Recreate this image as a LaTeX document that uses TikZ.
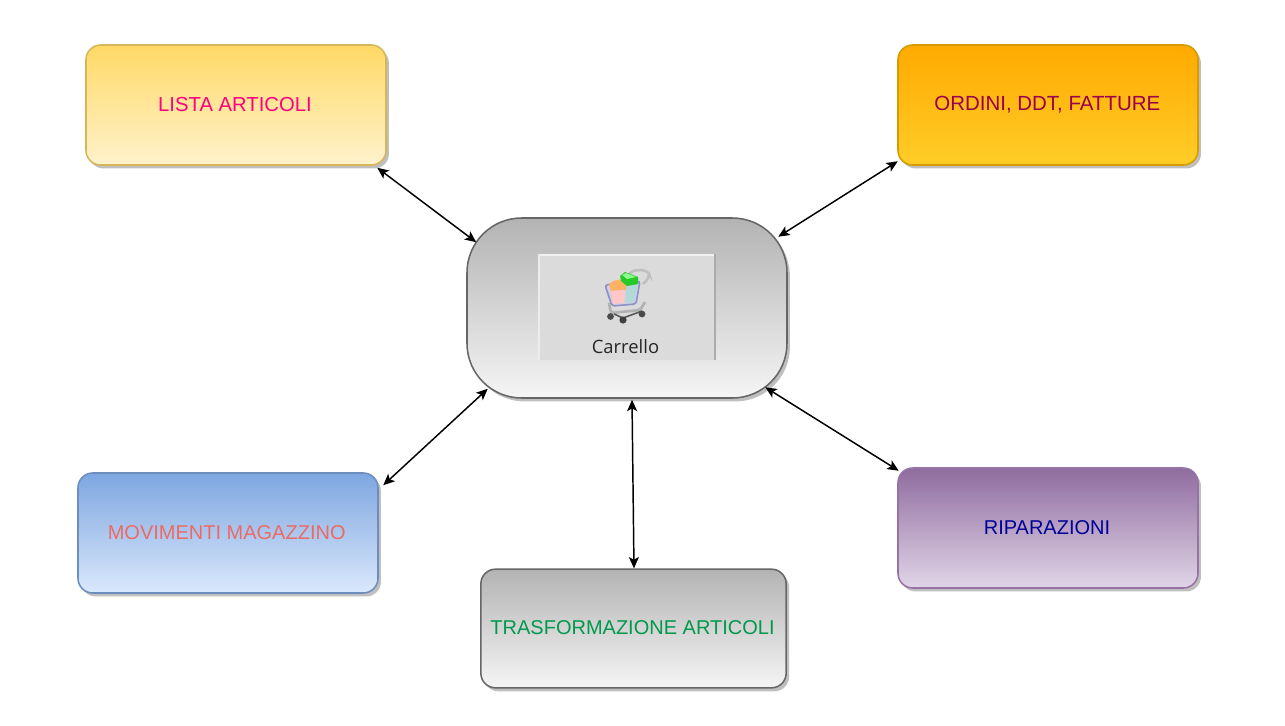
\documentclass[tikz,border=0pt]{standalone}
\usepackage{fontspec}
\setmainfont{Liberation Sans}
\newfontfamily\panelfont{Open Sans}
\usetikzlibrary{shadows, calc, arrows.meta}
\definecolor{listaTop}{HTML}{FFD966}
\definecolor{listaBot}{HTML}{FFF2CC}
\definecolor{listaEdge}{HTML}{D6B656}
\definecolor{ordiniTop}{HTML}{FFAA00}
\definecolor{ordiniBot}{HTML}{FFCD28}
\definecolor{ordiniEdge}{HTML}{D79B00}
\definecolor{movTop}{HTML}{7EA6E0}
\definecolor{movBot}{HTML}{DAE8FC}
\definecolor{movEdge}{HTML}{6C8EBF}
\definecolor{ripTop}{HTML}{8F6C9F}
\definecolor{ripBot}{HTML}{E1D5E7}
\definecolor{ripEdge}{HTML}{9673A6}
\definecolor{grigioTop}{HTML}{B3B3B3}
\definecolor{grigioBot}{HTML}{F5F5F5}
\definecolor{grigioEdge}{HTML}{666666}
\tikzset{
	box/.style={rectangle, draw, line width=1.15pt, rounded corners=11pt, inner sep=0pt,
		minimum width=225pt, minimum height=90pt, font=\fontsize{15}{18}\selectfont,
		drop shadow={shadow xshift=2.2pt, shadow yshift=-2.6pt, fill=black, opacity=0.25}},
	biarrow/.style={{Stealth[length=8.5pt, width=7.5pt, inset=2pt]}-{Stealth[length=8.5pt, width=7.5pt, inset=2pt]}, line width=1.1pt}
}
\begin{document}
\begin{tikzpicture}[x=0.75pt, y=-0.75pt]
			\useasboundingbox (0,0) rectangle (1285,725);

			%% Carrello
			\node[box, minimum width=240pt, minimum height=135pt, rounded corners=41pt,
				draw=grigioEdge, top color=grigioTop, bottom color=grigioBot] (carrello) at (627,308) {};

			%% Riquadri
			\node[box, font=\fontsize{15.2}{18}\selectfont, draw=listaEdge, top color=listaTop, bottom color=listaBot,
				text={rgb,255:red,255;green,0;blue,128}] (lista) at (236,105) {\kern-1.5pt LISTA ARTICOLI};
			\node[box, font=\fontsize{15.35}{18}\selectfont, draw=ordiniEdge, top color=ordiniTop, bottom color=ordiniBot,
				text={rgb,255:red,153;green,0;blue,77}] (ordini) at (1048,105) {\kern-1pt ORDINI, DDT, FATTURE};
			\node[box, draw=movEdge, top color=movTop, bottom color=movBot,
				text={rgb,255:red,234;green,107;blue,102}] (movimenti) at (228,533) {\raisebox{0.7pt}{\kern-2pt MOVIMENTI MAGAZZINO}};
			\node[box, draw=ripEdge, top color=ripTop, bottom color=ripBot,
				text={rgb,255:red,0;green,0;blue,153}] (riparazioni) at (1048,528) {\kern-1.5pt RIPARAZIONI};
			\node[box, minimum width=229pt, minimum height=89pt, draw=grigioEdge, top color=grigioTop,
				bottom color=grigioBot, text={rgb,255:red,0;green,153;blue,77}] (trasformazione) at (633.5,628.5) {\raisebox{1.4pt}{\kern-1.5pt TRASFORMAZIONE ARTICOLI}};

			%% Frecce
			\draw[biarrow] ($(lista.south east)+(-9.5,2)$)--($(carrello.north west)+(10,25)$);
			\draw[biarrow] ($(ordini.south west)+(0.5,-4.5)$)--($(carrello.north east)+(-9.5,19.5)$);
			\draw[biarrow] ($(movimenti.north east)+(4.5,13)$)--($(carrello.south west)+(21.5,-10)$);
			\draw[biarrow] ($(riparazioni.north west)+(1.5,3.5)$)--($(carrello.south east)+(-22.5,-11.5)$);
			\draw[biarrow] ($(carrello.south)+(5,1)$)--($(trasformazione.north)+(0.5,0)$);

			%% Pannello
			\fill[gray!28!white] (538,254) rectangle (715,360);
			\fill[gray!12!white] (538,254) rectangle (715,256);
			\fill[gray!15!white] (538,254) rectangle (540,360);
			\fill[gray!65!white] (714,254) rectangle (716,360);
			\node[font=\panelfont\fontsize{13.8}{16}\selectfont, text=black!85] (etichetta) at (625.5,346.5) {Carrello};

			%% Maniglia
			\draw[gray!50, line width=1.9pt, rounded corners=4pt] (628,276)--(631,270.5)--(648,270)--(650,277)--(643,284);
			%% Telaio
			\draw[gray!60, line width=2pt, rounded corners=2pt] (609,303)--(611,313)--(640,310)--(645,302);
			\draw[gray!70!black, line width=1.2pt] (614,314)--(623,318)--(642,311);
			%% Cesto
			\draw[fill=blue!22!gray!30!white, draw=blue!35!gray!65!white, line width=1.2pt, rounded corners=2pt]
				(605,285)--(640,281)--(636,304)--(612,306)--cycle;
			\fill[orange!60!white] (609,285) .. controls (612,279) and (623,278) .. (627,283)--(626,290)--(611,291)--cycle;
			\fill[red!22!white] (611,291)--(625,290)--(624,303)--(613,304)--cycle;
			\fill[teal!30!white] (626,287)--(638,283)--(634,302)--(626,303)--cycle;
			\fill[green!75!black!85!white] (620,276)--(625,272)--(638,277)--(638,284)--(627,286)--(621,281)--cycle;
			\fill[green!45!white] (622,275)--(626,273)--(636,277)--(627,279)--cycle;
			%% Ruote
			\fill[black!70] (610.5,316.5) circle [radius=3.4];
			\fill[black!75] (623,320) circle [radius=3.6];
			\fill[black!70] (642,314) circle [radius=3.4];
		\end{tikzpicture}
\end{document}
